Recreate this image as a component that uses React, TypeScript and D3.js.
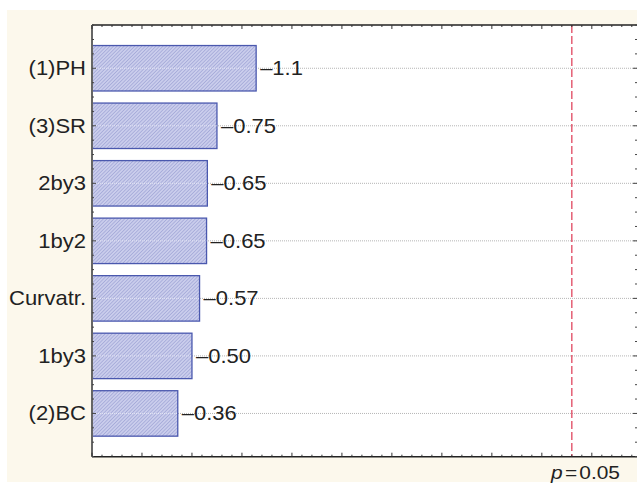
import React from "react";
import * as d3 from "d3";

const categories = ["(1)PH", "(3)SR", "2by3", "1by2", "Curvatr.", "1by3", "(2)BC"];
const effectLabels = ["–1.1", "–0.75", "–0.65", "–0.65", "–0.57", "–0.50", "–0.36"];
const barLengths = [0.821, 0.625, 0.577, 0.573, 0.538, 0.5, 0.429];
const pValueLine = 2.4;
const xDomainMax = 2.726;
const pLabel = "0.05";

const W = 637;
const H = 483;
const left = 92;
const right = 637;
const top = 25;
const bottom = 456.7;
const FONT = "'Liberation Sans', Arial, Helvetica, sans-serif";
const FS = 20;

export default function App() {
  const x = d3.scaleLinear().domain([0, xDomainMax]).range([left, right]);
  const y = d3
    .scaleBand<string>()
    .domain(categories)
    .range([top, bottom])
    .paddingInner(0.21)
    .paddingOuter(0.357);
  const step = y.step();
  const bw = y.bandwidth();

  const xMinor = d3.range(0, xDomainMax + 1e-9, 0.05);
  const isMajorX = (v: number) => Math.abs(v / 0.25 - Math.round(v / 0.25)) < 1e-6;

  const firstCenter = (y(categories[0]) ?? 0) + bw / 2;
  const yTicks: { v: number; major: boolean }[] = [];
  for (let k = -3; k <= 6 * 4 + 3; k++) {
    const v = firstCenter + (k * step) / 4;
    if (v >= top - 0.5 && v <= bottom + 0.5) yTicks.push({ v, major: k % 4 === 0 && k >= 0 });
  }

  return (
    <div style={{ position: "absolute", left: 0, top: 0 }}>
      <svg width={W} height={H} style={{ display: "block" }}>
        <defs>
          <pattern id="hatch" width="2.5" height="2.5" patternUnits="userSpaceOnUse" patternTransform="rotate(45)">
            <rect width="2.5" height="2.5" fill="#cacdec" />
            <line x1="0" y1="0" x2="0" y2="2.5" stroke="#8e95cd" strokeWidth="1" />
          </pattern>
        </defs>
        <rect x={0} y={0} width={W} height={H} fill="#ffffff" />
        <rect x={7} y={10} width={W - 7} height={472} fill="#fcf8ec" />
        <rect x={left} y={top} width={right - left} height={bottom - top} fill="#ffffff" />

        {categories.map((c) => {
          const cy = (y(c) ?? 0) + bw / 2;
          return (
            <line key={"g" + c} x1={left} x2={right} y1={cy} y2={cy} stroke="#b5b5b5" strokeWidth={1} strokeDasharray="1,1" />
          );
        })}

        {categories.map((c, i) => {
          const by = y(c) ?? 0;
          return (
            <g key={"b" + c}>
              <rect
                x={left}
                y={by}
                width={x(barLengths[i]) - left}
                height={bw}
                fill="url(#hatch)"
                stroke="#4a58ae"
                strokeWidth={1.3}
              />
              <line x1={left} x2={x(barLengths[i])} y1={by + bw / 2} y2={by + bw / 2} stroke="#ffffff" strokeOpacity={0.55} strokeDasharray="1,1" />
            </g>
          );
        })}

        <line x1={x(pValueLine)} x2={x(pValueLine)} y1={top} y2={bottom} stroke="#e0475f" strokeWidth={1.3} strokeDasharray="8,3" />

        <line x1={left} x2={right} y1={top} y2={top} stroke="#222" strokeWidth={1.5} />
        <line x1={left} x2={right} y1={bottom} y2={bottom} stroke="#222" strokeWidth={1.5} />
        <line x1={left} x2={left} y1={top} y2={bottom} stroke="#666" strokeWidth={2} />

        {xMinor.map((v, i) => {
          const len = isMajorX(v) ? 4 : 2;
          const xx = x(v);
          return (
            <g key={"xt" + i}>
              <line x1={xx} x2={xx} y1={top} y2={top + len} stroke="#333" strokeWidth={1} />
              <line x1={xx} x2={xx} y1={bottom} y2={bottom - len} stroke="#333" strokeWidth={1} />
            </g>
          );
        })}
        {yTicks.map((t, i) => {
          const len = t.major ? 4 : 2;
          return (
            <g key={"yt" + i}>
              <line x1={left} x2={left + len} y1={t.v} y2={t.v} stroke="#444" strokeWidth={1} />
              <line x1={right} x2={right - len} y1={t.v} y2={t.v} stroke="#444" strokeWidth={1} />
            </g>
          );
        })}

        {categories.map((c) => {
          const cy = (y(c) ?? 0) + bw / 2;
          return (
            <text
              key={"c" + c}
              transform={`translate(86,${cy + 7}) scale(1.1,1)`}
              textAnchor="end"
              fontFamily={FONT}
              fontSize={FS}
              fill="#222"
            >
              {c}
            </text>
          );
        })}

        {categories.map((c, i) => {
          const cy = (y(c) ?? 0) + bw / 2;
          return (
            <text
              key={"v" + c}
              transform={`translate(${x(barLengths[i]) + 4},${cy + 7}) scale(1.1,1)`}
              fontFamily={FONT}
              fontSize={FS}
              fill="#222"
            >
              {effectLabels[i]}
            </text>
          );
        })}

        <text transform={`translate(620,479) scale(1.1,1)`} textAnchor="end" fontFamily={FONT} fontSize={19} fill="#222">
          <tspan fontStyle="italic">p</tspan>
          <tspan dx={2}>=</tspan>
          <tspan dx={2}>{pLabel}</tspan>
        </text>
      </svg>
    </div>
  );
}
